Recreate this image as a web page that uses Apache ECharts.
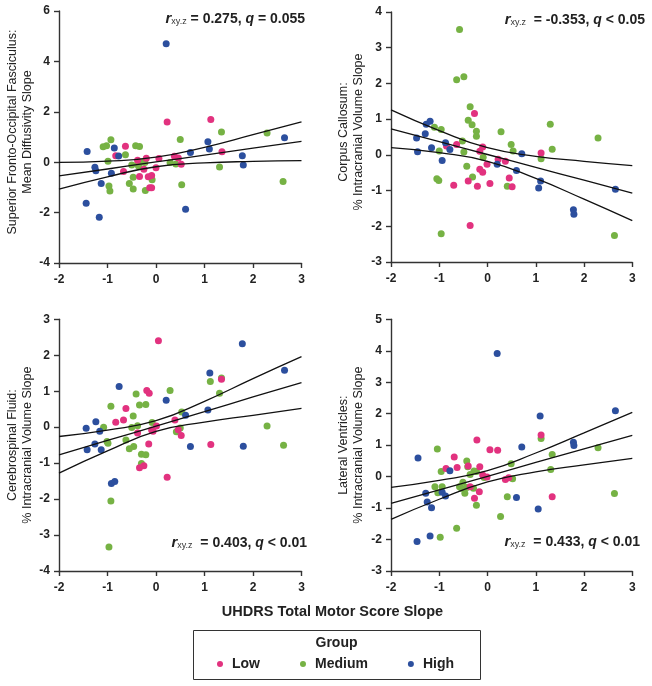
<!DOCTYPE html>
<html><head><meta charset="utf-8">
<script src="https://cdn.jsdelivr.net/npm/echarts@6/dist/echarts.min.js"></script>
<style>html,body{margin:0;padding:0;background:#fff}#c{width:652px;height:686px}</style>
</head><body><div id="c"></div>
<script>
const groupNames = ['Low', 'Medium', 'High'];
const groupColors = ['#e2327f', '#76b244', '#2c4f9e'];
const xTicks = [-2, -1, 0, 1, 2, 3];
const xTitle = 'UHDRS Total Motor Score Slope';
const legendTitle = 'Group';

// Panel 1: Superior Fronto-Occipital Fasciculus
const sfofLow = [[0.23,1.60],[1.13,1.69],[1.36,0.41],[0.38,0.24],[0.46,0.17],[0.52,-0.08],[0.06,0.15],[0.00,-0.22],[-0.20,0.16],[-0.25,-0.28],[-0.34,-0.57],[-0.16,-0.58],[-0.09,-0.53],[-0.13,-1.01],[-0.09,-1.01],[-0.38,0.08],[-0.63,0.63],[-0.83,0.26],[-0.67,-0.37]];
const sfofMedium = [[1.35,1.20],[2.29,1.16],[1.31,-0.19],[2.62,-0.77],[0.50,0.90],[0.29,-0.01],[0.41,-0.07],[0.53,-0.89],[-0.08,-0.70],[-0.22,-1.12],[-0.47,-1.06],[-0.55,-0.85],[-0.47,-0.60],[-0.50,-0.11],[-0.38,-0.08],[-0.34,-0.01],[-0.29,0.01],[-0.36,-0.15],[-0.23,-0.01],[-0.42,0.65],[-0.34,0.62],[-0.63,0.30],[-0.93,0.89],[-1.02,0.65],[-1.09,0.61],[-0.99,0.04],[-0.97,-0.94],[-0.95,-1.14]];
const sfofHigh = [[0.21,4.70],[2.65,0.97],[1.07,0.81],[1.10,0.52],[1.78,0.26],[1.80,-0.11],[0.71,0.38],[0.61,-1.87],[-0.77,0.25],[-0.86,0.56],[-1.42,0.42],[-1.26,-0.20],[-1.24,-0.34],[-0.92,-0.44],[-1.13,-0.85],[-1.44,-1.63],[-1.17,-2.18]];
const sfofFit = [-0.54,-0.27,0.01,0.28,0.56,0.83];
const sfofUpper = [-0.01,0.04,0.20,0.59,1.09,1.60];
const sfofLower = [-1.07,-0.58,-0.18,-0.03,0.03,0.06];

// Panel 2: Corpus Callosum
const ccLow = [[-0.27,1.16],[1.11,0.05],[0.37,-0.18],[0.22,-0.12],[-0.01,-0.26],[-0.10,0.22],[-0.16,0.10],[-0.16,-0.40],[-0.10,-0.49],[0.05,-0.80],[-0.21,-0.88],[-0.40,-0.73],[-0.70,-0.85],[-0.64,0.29],[-0.85,0.25],[-0.36,-1.98],[0.45,-0.65],[0.51,-0.89]];
const ccMedium = [[-0.58,3.51],[-0.49,2.19],[-0.64,2.10],[-0.36,1.35],[-0.40,0.97],[-0.32,0.84],[-0.23,0.66],[-0.23,0.52],[0.28,0.65],[1.30,0.86],[2.29,0.47],[1.34,0.16],[1.11,-0.11],[0.49,0.29],[0.53,0.11],[-0.09,-0.07],[-0.31,-0.62],[-0.43,-0.32],[-0.52,0.39],[-0.49,0.08],[-0.96,0.71],[-1.10,0.77],[-1.00,0.11],[-1.05,-0.67],[-1.01,-0.72],[-0.96,-2.21],[0.41,-0.88],[2.63,-2.26]];
const ccHigh = [[0.71,0.03],[0.20,-0.26],[-0.87,0.34],[-0.78,0.15],[-1.19,0.94],[-1.27,0.86],[-1.29,0.59],[-1.47,0.47],[-1.16,0.20],[-1.45,0.09],[-0.94,-0.16],[0.60,-0.44],[1.06,-0.93],[1.10,-0.73],[1.78,-1.54],[1.79,-1.66],[2.65,-0.96]];
const ccFit = [0.73,0.37,0.01,-0.35,-0.71,-1.07];
const ccUpper = [1.26,0.68,0.20,-0.04,-0.18,-0.30];
const ccLower = [0.20,0.06,-0.18,-0.66,-1.24,-1.84];

// Panel 3: Cerebrospinal Fluid
const csfLow = [[0.05,2.40],[1.35,1.33],[0.39,0.20],[0.46,-0.07],[0.52,-0.23],[1.13,-0.48],[0.23,-1.39],[-0.19,1.02],[-0.14,0.94],[-0.62,0.52],[-0.83,0.14],[-0.67,0.20],[0.01,0.03],[-0.09,-0.08],[-0.06,-0.11],[-0.38,-0.16],[-0.15,-0.47],[-0.34,-1.13],[-0.25,-1.07]];
const csfMedium = [[1.12,1.27],[1.35,1.37],[1.31,0.94],[0.29,1.02],[0.53,0.42],[0.50,-0.02],[0.42,-0.13],[2.29,0.03],[2.63,-0.50],[-0.41,0.92],[-0.34,0.62],[-0.21,0.63],[-0.93,0.58],[-0.47,0.31],[-0.08,0.13],[-0.38,0.04],[-0.50,-0.01],[-0.62,-0.36],[-0.46,-0.54],[-0.55,-0.60],[-0.30,-0.75],[-0.21,-0.77],[-0.30,-1.01],[-1.08,0.00],[-1.01,-0.40],[-0.99,-0.45],[-0.93,-2.05],[-0.97,-3.33]];
const csfHigh = [[1.78,2.32],[2.65,1.58],[1.11,1.51],[1.07,0.48],[0.21,0.75],[0.61,0.33],[0.71,-0.54],[1.80,-0.53],[-0.76,1.13],[-1.24,0.15],[-1.44,-0.03],[-1.16,-0.11],[-1.26,-0.47],[-1.42,-0.63],[-1.13,-0.63],[-0.92,-1.57],[-0.85,-1.51]];
const csfFit = [-0.77,-0.37,0.03,0.43,0.84,1.24];
const csfUpper = [-0.26,-0.08,0.18,0.72,1.35,1.96];
const csfLower = [-1.28,-0.66,-0.12,0.14,0.33,0.52];

// Panel 4: Lateral Ventricles
const lvLow = [[-0.22,1.16],[0.05,0.85],[0.21,0.84],[0.37,-0.09],[0.44,-0.04],[-0.01,-0.01],[-0.16,0.31],[-0.40,0.34],[-0.63,0.29],[-0.69,0.62],[-0.86,0.26],[-0.10,0.05],[-0.36,-0.32],[-0.17,-0.48],[-0.27,-0.69],[1.11,1.32],[1.34,-0.64]];
const lvMedium = [[1.11,1.21],[2.29,0.92],[1.34,0.70],[1.31,0.23],[2.63,-0.54],[0.49,0.41],[0.52,-0.07],[0.41,-0.64],[0.27,-1.27],[-0.07,-0.03],[-0.23,0.16],[-0.28,0.18],[-0.36,0.07],[-0.43,0.50],[-0.41,0.31],[-0.96,0.16],[-1.04,0.88],[-0.51,-0.18],[-0.54,-0.37],[-0.47,-0.53],[-0.43,-0.35],[-0.29,-0.37],[-0.58,-0.32],[-0.23,-0.91],[-1.09,-0.32],[-0.94,-0.32],[-1.03,-0.51],[-0.64,-1.64],[-0.98,-1.93]];
const lvHigh = [[0.20,3.91],[1.09,1.93],[2.65,2.09],[1.78,1.09],[1.79,0.99],[0.71,0.94],[0.60,-0.66],[1.05,-1.03],[-0.78,0.19],[-0.94,-0.50],[-0.87,-0.62],[-1.28,-0.53],[-1.25,-0.81],[-1.16,-0.99],[-1.44,0.59],[-1.46,-2.06],[-1.19,-1.89]];
const lvFit = [-0.85,-0.42,0.01,0.45,0.88,1.31];
const lvUpper = [-0.34,-0.12,0.19,0.75,1.39,2.04];
const lvLower = [-1.36,-0.72,-0.17,0.15,0.37,0.58];

const yTitles = [
  'Superior Fronto-Occipital Fasciculus:\nMean Diffusivity Slope',
  'Corpus Callosum:\n% Intracranial Volume Slope',
  'Cerebrospinal Fluid:\n% Intracranial Volume Slope',
  'Lateral Ventricles:\n% Intracranial Volume Slope'
];
const yRanges = [[-4, 6, 2], [-3, 4, 1], [-4, 3, 1], [-3, 5, 1]];
const statR = ['0.275', '-0.353', '0.403', '0.433'];
const statQ = ['= 0.055', '< 0.05', '< 0.01', '< 0.01'];

const panels = [
  {low: sfofLow, med: sfofMedium, high: sfofHigh, fit: sfofFit, up: sfofUpper, lo: sfofLower},
  {low: ccLow, med: ccMedium, high: ccHigh, fit: ccFit, up: ccUpper, lo: ccLower},
  {low: csfLow, med: csfMedium, high: csfHigh, fit: csfFit, up: csfUpper, lo: csfLower},
  {low: lvLow, med: lvMedium, high: lvHigh, fit: lvFit, up: lvUpper, lo: lvLower}
];

const grids = [
  {left: 59, top: 11, width: 242.5, height: 252},
  {left: 391, top: 12, width: 241.3, height: 250},
  {left: 59, top: 319.3, width: 242.5, height: 251.7},
  {left: 391, top: 319.3, width: 241.3, height: 251.7}
];
const nameGaps = [24, 25, 24, 25];
const statPos = [[305, 17], [645, 18], [307, 541], [640, 540]];

const FONT = '"Liberation Sans", Arial, Helvetica, sans-serif';
const axisCol = '#333';

const xAxes = [], yAxes = [], series = [], graphics = [];
panels.forEach((p, i) => {
  xAxes.push({
    gridIndex: i, type: 'value', min: xTicks[0], max: xTicks[xTicks.length - 1], interval: 1,
    axisLine: {onZero: false, lineStyle: {color: axisCol, width: 1.4}},
    axisTick: {show: true, inside: false, length: 5, lineStyle: {color: axisCol, width: 1.4}},
    axisLabel: {margin: 11, color: '#222', fontSize: 12, fontWeight: 'bold', fontFamily: FONT},
    splitLine: {show: false}
  });
  yAxes.push({
    gridIndex: i, type: 'value', min: yRanges[i][0], max: yRanges[i][1], interval: yRanges[i][2],
    name: yTitles[i], nameLocation: 'middle', nameGap: nameGaps[i],
    nameTextStyle: {color: '#222', fontSize: 12.5, fontFamily: FONT, lineHeight: 15, fontWeight: 'normal', padding: [0, 0, 0, i < 2 ? 10 : 0]},
    axisLine: {onZero: false, lineStyle: {color: axisCol, width: 1.4}},
    axisTick: {show: true, inside: false, length: 5, lineStyle: {color: axisCol, width: 1.4}},
    axisLabel: {margin: 9, color: '#222', fontSize: 12, fontWeight: 'bold', fontFamily: FONT},
    splitLine: {show: false}
  });
  const groupsData = [p.low, p.med, p.high];
  [1, 0, 2].forEach(g => {
    series.push({
      type: 'scatter', name: groupNames[g], xAxisIndex: i, yAxisIndex: i,
      data: groupsData[g], symbol: 'circle', symbolSize: 7,
      itemStyle: {color: groupColors[g], opacity: 1}, z: 3
    });
  });
  [p.lo, p.fit, p.up].forEach(arr => {
    series.push({
      type: 'line', xAxisIndex: i, yAxisIndex: i, smooth: 0.5,
      data: xTicks.map((x, k) => [x, arr[k]]), symbol: 'none',
      lineStyle: {color: '#111', width: 1.3}, z: 4, silent: true
    });
  });
  graphics.push({
    type: 'text', x: statPos[i][0], y: statPos[i][1],
    style: {
      text: '{r|r}{s|xy.z}{b|' + (i === 0 ? ' = ' : '  = ') + statR[i] + ', }{q|q}{b| ' + statQ[i] + '}',
      align: 'right', verticalAlign: 'middle',
      rich: {
        r: {fontSize: 15, fontWeight: 'bold', fontStyle: 'italic', fill: '#222', fontFamily: FONT, lineHeight: 18, verticalAlign: 'bottom'},
        s: {fontSize: 9, fontWeight: 'normal', fill: '#333', fontFamily: FONT, lineHeight: 18, verticalAlign: 'bottom'},
        b: {fontSize: 14, fontWeight: 'bold', fill: '#222', fontFamily: FONT, lineHeight: 18, verticalAlign: 'bottom'},
        q: {fontSize: 14, fontWeight: 'bold', fontStyle: 'italic', fill: '#222', fontFamily: FONT, lineHeight: 18, verticalAlign: 'bottom'}
      }
    }
  });
});

graphics.push({
  type: 'text', x: 332.5, y: 612,
  style: {text: xTitle, align: 'center', verticalAlign: 'middle', fontSize: 14.5, fontWeight: 'bold', fill: '#222', fontFamily: FONT}
});
graphics.push({
  type: 'rect', shape: {x: 193.5, y: 630.5, width: 287, height: 49},
  style: {fill: 'none', stroke: '#333', lineWidth: 1}
});
graphics.push({
  type: 'text', x: 336.5, y: 643,
  style: {text: legendTitle, align: 'center', verticalAlign: 'middle', fontSize: 14, fontWeight: 'bold', fill: '#222', fontFamily: FONT}
});

const chart = echarts.init(document.getElementById('c'), null, {renderer: 'canvas'});
chart.setOption({
  backgroundColor: '#fff',
  animation: false,
  grid: grids,
  xAxis: xAxes,
  yAxis: yAxes,
  series: series,
  legend: {
    data: groupNames, left: 217, top: 657, padding: 0, itemGap: 40,
    icon: 'circle', itemWidth: 6, itemHeight: 6,
    textStyle: {fontSize: 14, fontWeight: 'bold', color: '#222', fontFamily: FONT, padding: [0, 0, 0, 4]},
    selectedMode: false
  },
  graphic: graphics
});
</script></body></html>
